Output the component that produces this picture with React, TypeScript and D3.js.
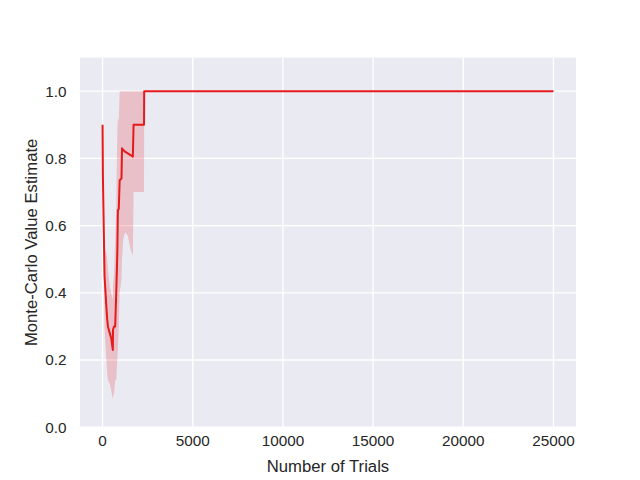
import { useEffect, useRef } from 'react'
import * as d3 from 'd3'

// Estimate per trial count: mean line and confidence band
const trials = [0, 20, 110, 210, 260, 300, 400, 480, 570, 580, 640, 700, 760, 820, 850, 900, 950, 1050, 1080, 1150, 1250, 1400, 1550, 1680, 1720, 2300, 2310, 25000]
const meanEst = [0.9, 0.745, 0.45, 0.36, 0.32, 0.3, 0.28, 0.265, 0.23, 0.29, 0.3, 0.3, 0.4, 0.52, 0.645, 0.65, 0.735, 0.74, 0.83, 0.825, 0.82, 0.815, 0.81, 0.805, 0.9, 0.9, 1.0, 1.0]
const lowerEst = [0.9, 0.7, 0.3, 0.2, 0.16, 0.14, 0.13, 0.11, 0.085, 0.09, 0.1, 0.14, 0.14, 0.2, 0.23, 0.3, 0.4, 0.44, 0.5, 0.56, 0.58, 0.57, 0.53, 0.51, 0.7, 0.7, 1.0, 1.0]
const upperEst = [0.9, 0.78, 0.53, 0.52, 0.5, 0.47, 0.42, 0.4, 0.38, 0.42, 0.46, 0.55, 0.66, 0.88, 0.92, 0.91, 1.0, 1.0, 1.0, 1.0, 1.0, 1.0, 1.0, 1.0, 1.0, 1.0, 1.0, 1.0]

const xTicks = [0, 5000, 10000, 15000, 20000, 25000]
const yTicks = [0, 0.2, 0.4, 0.6, 0.8, 1.0]

const RED = '#e41a1c'
const TEXT = '#262626'
const FONT = 'Arial, "Liberation Sans", sans-serif'

export default function App() {
  const svgRef = useRef<SVGSVGElement>(null)

  useEffect(() => {
    if (!svgRef.current) return
    const svg = d3.select(svgRef.current)
    svg.selectAll('*').remove()

    const left = 80, right = 576, top = 57.6, bottom = 427.2

    const x = d3.scaleLinear().domain([-1250, 26250]).range([left, right])
    const y = d3.scaleLinear().domain([0, 1.1]).range([bottom, top])

    const rows = trials.map((t, i) => ({ t, m: meanEst[i], lo: lowerEst[i], hi: upperEst[i] }))

    // background
    svg.append('rect')
      .attr('x', left).attr('y', top)
      .attr('width', right - left).attr('height', bottom - top)
      .attr('fill', '#eaeaf2')

    // grid
    const grid = svg.append('g').attr('stroke', '#fff').attr('stroke-width', 1.33)
    grid.selectAll('line.gx').data(xTicks).enter().append('line')
      .attr('x1', d => x(d)).attr('x2', d => x(d))
      .attr('y1', top).attr('y2', bottom)
    grid.selectAll('line.gy').data(yTicks).enter().append('line')
      .attr('x1', left).attr('x2', right)
      .attr('y1', d => y(d)).attr('y2', d => y(d))

    // confidence band
    const area = d3.area<any>()
      .x(d => x(d.t))
      .y0(d => y(d.lo))
      .y1(d => y(d.hi))
    svg.append('path')
      .datum(rows)
      .attr('d', area)
      .attr('fill', RED)
      .attr('fill-opacity', 0.2)

    // mean line
    const line = d3.line<any>()
      .x(d => x(d.t))
      .y(d => y(d.m))
    svg.append('path')
      .datum(rows)
      .attr('d', line)
      .attr('fill', 'none')
      .attr('stroke', RED)
      .attr('stroke-width', 2)
      .attr('stroke-linejoin', 'round')

    // tick labels
    svg.append('g').selectAll('text').data(xTicks).enter().append('text')
      .attr('x', d => x(d)).attr('y', bottom + 19)
      .attr('text-anchor', 'middle')
      .attr('font-family', FONT).attr('font-size', 15.3).attr('fill', TEXT)
      .text(d => d3.format('d')(d))

    svg.append('g').selectAll('text').data(yTicks).enter().append('text')
      .attr('x', left - 13.5).attr('y', d => y(d) + 5.3)
      .attr('text-anchor', 'end')
      .attr('font-family', FONT).attr('font-size', 15.3).attr('fill', TEXT)
      .text(d => d3.format('.1f')(d))

    // axis labels
    svg.append('text')
      .attr('x', (left + right) / 2).attr('y', 472)
      .attr('text-anchor', 'middle')
      .attr('font-family', FONT).attr('font-size', 16.7).attr('fill', TEXT)
      .text('Number of Trials')

    svg.append('text')
      .attr('transform', `translate(37, ${(top + bottom) / 2}) rotate(-90)`)
      .attr('text-anchor', 'middle')
      .attr('font-family', FONT).attr('font-size', 16.7).attr('fill', TEXT)
      .text('Monte-Carlo Value Estimate')
  }, [])

  return (
    <svg
      ref={svgRef}
      width={640}
      height={480}
      style={{ position: 'absolute', left: 0, top: 0, background: '#fff' }}
    />
  )
}
